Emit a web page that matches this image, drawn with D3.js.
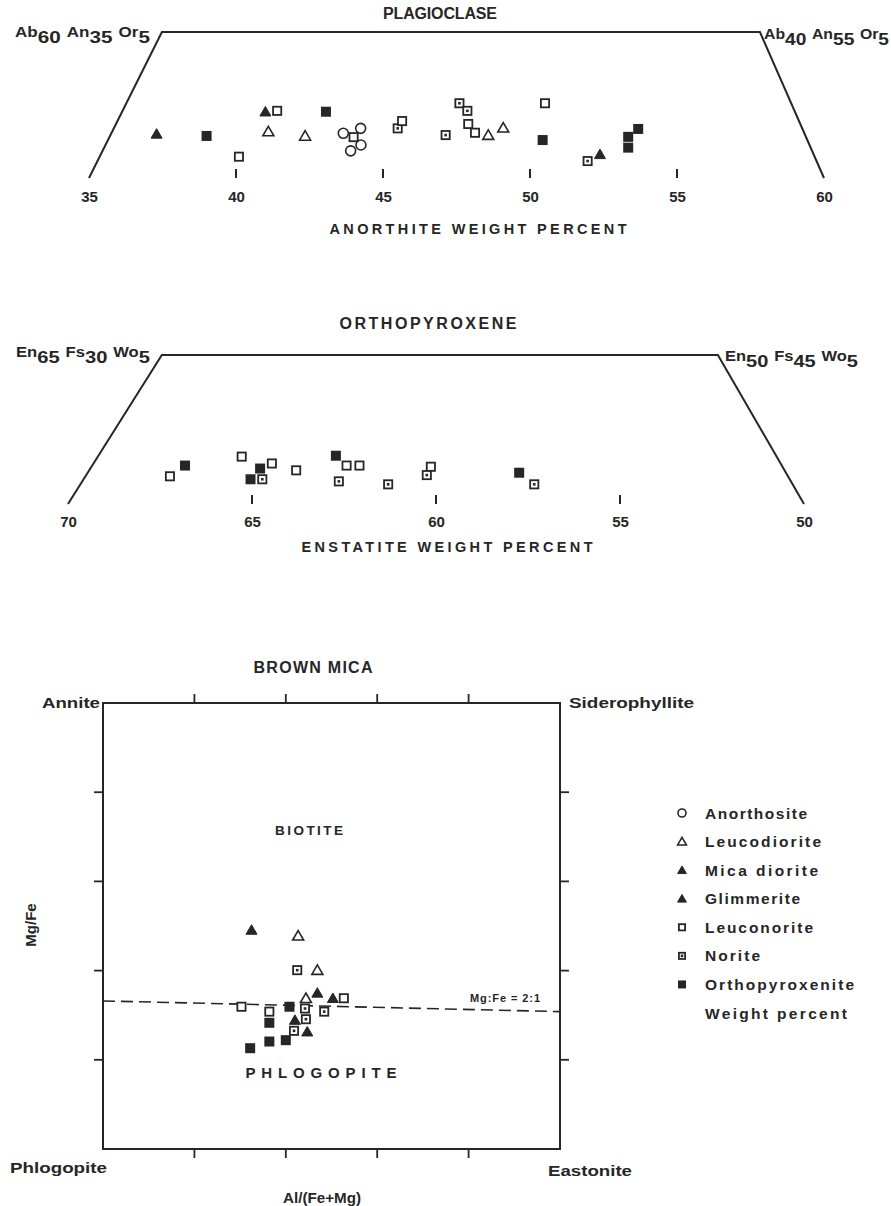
<!DOCTYPE html>
<html><head><meta charset="utf-8">
<script src="https://cdn.jsdelivr.net/npm/d3@7/dist/d3.min.js"></script>
<style>body{margin:0;background:#fff}svg{display:block}</style>
</head><body>
<svg id="c" width="891" height="1206"></svg>
<script>
// ---------------- DATA ----------------
const rockTypes = ["Anorthosite","Leucodiorite","Mica diorite","Glimmerite","Leuconorite","Norite","Orthopyroxenite"];

// Plagioclase: anorthite wt% (x) vs orthoclase wt% (vertical, 0 at base, 5 at top)
const plagTicks = [35,40,45,50,55,60];
const plagInnerTicks = [40,45,50,55];
const plagFrameAn = [35,37.48,57.82,60];
const plagFrameOr = [0,5,5,0];
const plagAn = [37.3,39.0,41.0,41.4,41.1,42.35,40.1,43.06,43.65,44.24,44.25,43.9,44.0,45.5,45.65,47.13,47.6,47.87,47.9,48.13,48.58,49.09,50.51,50.43,51.96,52.38,53.34,53.34,53.68];
const plagOr = [1.51,1.44,2.27,2.30,1.59,1.44,0.73,2.27,1.53,1.70,1.13,0.93,1.40,1.70,1.95,1.47,2.56,2.30,1.85,1.55,1.47,1.72,2.56,1.30,0.58,0.81,1.41,1.04,1.68];
const plagRock = ["Mica diorite","Orthopyroxenite","Mica diorite","Leuconorite","Leucodiorite","Leucodiorite","Leuconorite","Orthopyroxenite",
  "Anorthosite","Anorthosite","Anorthosite","Anorthosite","Leuconorite","Norite","Leuconorite","Norite","Norite","Norite","Leuconorite","Leuconorite",
  "Leucodiorite","Leucodiorite","Leuconorite","Orthopyroxenite","Norite","Mica diorite","Orthopyroxenite","Orthopyroxenite","Orthopyroxenite"];

// Orthopyroxene: enstatite wt% (x) vs wollastonite wt% (vertical)
const opxTicks = [70,65,60,55,50];
const opxInnerTicks = [65,60,55];
const opxFrameEn = [70,67.45,52.34,50];
const opxFrameWo = [0,5,5,0];
const opxEn = [67.23,66.82,65.28,64.78,64.46,65.04,64.72,63.80,62.72,62.43,62.08,62.64,61.30,60.14,60.25,57.74,57.33];
const opxWo = [0.93,1.29,1.59,1.19,1.36,0.83,0.83,1.13,1.62,1.29,1.29,0.76,0.66,1.25,0.97,1.05,0.66];
const opxRock = ["Leuconorite","Orthopyroxenite","Leuconorite","Orthopyroxenite","Leuconorite","Orthopyroxenite","Norite","Leuconorite",
  "Orthopyroxenite","Leuconorite","Leuconorite","Norite","Norite","Leuconorite","Norite","Orthopyroxenite","Norite"];

// Brown mica: Al/(Fe+Mg) (x, 0-1) vs Fe/(Fe+Mg) position (y, 0-1)
const micaTicks = [0.2,0.4,0.6,0.8];
const micaX = [0.325,0.427,0.425,0.469,0.469,0.503,0.527,0.444,0.303,0.364,0.408,0.442,0.484,0.364,0.420,0.444,0.418,0.447,0.322,0.364,0.400];
const micaY = [0.491,0.478,0.401,0.401,0.350,0.338,0.338,0.338,0.319,0.308,0.319,0.315,0.308,0.283,0.289,0.291,0.265,0.263,0.226,0.241,0.244];
const micaRock = ["Glimmerite","Leucodiorite","Norite","Leucodiorite","Mica diorite","Mica diorite","Leuconorite","Leucodiorite",
  "Leuconorite","Leuconorite","Orthopyroxenite","Norite","Norite","Orthopyroxenite","Mica diorite","Norite","Norite","Mica diorite",
  "Orthopyroxenite","Orthopyroxenite","Orthopyroxenite"];
const mgFeLineX = [0,1];
const mgFeLineY = [0.332,0.308];

// ---------------- DRAW ----------------
const ink = "#262626";
const FONT = "'Liberation Sans', Arial, Helvetica, sans-serif";
const NARROW = "'Liberation Sans Narrow', 'Liberation Sans', Arial, sans-serif";
const svg = d3.select("#c");
svg.append("rect").attr("width",891).attr("height",1206).attr("fill","#fff");

function txt(x,y,s,opt={}) {
  const t = svg.append("text").attr("x",x).attr("y",y).text(s)
    .attr("font-family",opt.family||FONT).attr("font-weight",opt.weight||"bold")
    .attr("font-size",opt.size||14).attr("fill",ink)
    .attr("text-anchor",opt.anchor||"start");
  if (opt.width) t.attr("textLength",opt.width).attr("lengthAdjust",opt.adjust||"spacing");
  return t;
}

function drawSym(g, type, cx, cy, s) {
  const h = s/2;
  if (type === "Anorthosite") {
    g.append("circle").attr("cx",cx).attr("cy",cy).attr("r",h).attr("fill","#fff").attr("stroke",ink).attr("stroke-width",1.6);
  } else if (type === "Leucodiorite" || type === "Mica diorite" || type === "Glimmerite") {
    const filled = type !== "Leucodiorite";
    const p = `M${cx},${cy-h*1.05}L${cx+h*1.1},${cy+h*0.85}L${cx-h*1.1},${cy+h*0.85}Z`;
    g.append("path").attr("d",p).attr("fill",filled?ink:"#fff").attr("stroke",ink)
      .attr("stroke-width",filled?1:1.6).attr("stroke-linejoin","miter");
  } else if (type === "Leuconorite" || type === "Norite") {
    g.append("rect").attr("x",cx-h+0.9).attr("y",cy-h+0.9).attr("width",s-1.8).attr("height",s-1.8)
      .attr("fill","#fff").attr("stroke",ink).attr("stroke-width",1.8);
    if (type === "Norite") g.append("rect").attr("x",cx-1.3).attr("y",cy-1.3).attr("width",2.6).attr("height",2.6).attr("fill",ink);
  } else {
    g.append("rect").attr("x",cx-h).attr("y",cy-h).attr("width",s).attr("height",s).attr("fill",ink);
  }
}

function trapPanel(cfg) {
  const x = d3.scaleLinear().domain(cfg.domain).range(cfg.xRange);
  const y = d3.scaleLinear().domain([0,5]).range(cfg.yRange);
  const g = svg.append("g");
  const line = d3.line().x(d=>x(d[0])).y(d=>y(d[1]));
  g.append("path").attr("d", line(cfg.frameX.map((v,i)=>[v,cfg.frameY[i]])))
    .attr("fill","none").attr("stroke",ink).attr("stroke-width",2).attr("stroke-linejoin","miter");
  g.selectAll("line.tk").data(cfg.inner).join("line")
    .attr("x1",d=>x(d)).attr("x2",d=>x(d)).attr("y1",y(0)).attr("y2",y(0)-9)
    .attr("stroke",ink).attr("stroke-width",2);
  const ax = g.append("g").attr("transform",`translate(0,${y(0)})`)
    .call(d3.axisBottom(x).tickValues(cfg.ticks).tickSize(0).tickPadding(cfg.pad).tickFormat(d3.format("d")));
  ax.select(".domain").remove();
  ax.selectAll("text").attr("font-family",FONT).attr("font-weight","bold").attr("font-size",15).attr("fill",ink);
  const pts = g.append("g");
  cfg.xs.forEach((v,i)=> drawSym(pts, cfg.rock[i], x(v), y(cfg.ys[i]), 10));
  return {x,y};
}

function formula(x, y, parts, width) {
  const t = svg.append("text").attr("x",x).attr("y",y).attr("font-family",FONT).attr("font-weight","bold").attr("fill",ink)
    .attr("textLength",width).attr("lengthAdjust","spacingAndGlyphs");
  parts.forEach((p,i)=>{
    t.append("tspan").attr("font-size",14).attr("dy", -6).attr("dx", i===0?0:5).text(p[0]);
    t.append("tspan").attr("font-size",17).attr("dy",6).text(p[1]);
  });
  return t;
}

// ---- Plagioclase ----
txt(440,19,"PLAGIOCLASE",{size:16,anchor:"middle",width:114});
trapPanel({domain:[35,60], xRange:[89,824], yRange:[178,32], frameX:plagFrameAn, frameY:plagFrameOr,
  inner:plagInnerTicks, ticks:plagTicks, xs:plagAn, ys:plagOr, rock:plagRock, pad:13});
txt(478,234,"ANORTHITE WEIGHT PERCENT",{size:14.5,anchor:"middle",width:297});
formula(15,43,[["Ab","60"],["An","35"],["Or","5"]],135);
formula(764,45,[["Ab","40"],["An","55"],["Or","5"]],125);

// ---- Orthopyroxene ----
txt(428,329,"ORTHOPYROXENE",{size:16,anchor:"middle",width:177});
trapPanel({domain:[70,50], xRange:[68,804], yRange:[504,355], frameX:opxFrameEn, frameY:opxFrameWo,
  inner:opxInnerTicks, ticks:opxTicks, xs:opxEn, ys:opxWo, rock:opxRock, pad:12});
txt(447,552,"ENSTATITE WEIGHT PERCENT",{size:14.5,anchor:"middle",width:291});
formula(16,363,[["En","65"],["Fs","30"],["Wo","5"]],134);
formula(725,367,[["En","50"],["Fs","45"],["Wo","5"]],133);

// ---- Brown mica ----
txt(313,673,"BROWN MICA",{size:16,anchor:"middle",width:119});
const mx = d3.scaleLinear().domain([0,1]).range([103,560]);
const my = d3.scaleLinear().domain([0,1]).range([1149,703]);
const mg = svg.append("g");
mg.append("rect").attr("x",mx(0)).attr("y",my(1)).attr("width",mx(1)-mx(0)).attr("height",my(0)-my(1))
  .attr("fill","none").attr("stroke",ink).attr("stroke-width",2);
const tl = 9;
mg.selectAll("line.t").data(micaTicks).join("line").attr("x1",d=>mx(d)).attr("x2",d=>mx(d)).attr("y1",my(1)).attr("y2",my(1)-tl).attr("stroke",ink).attr("stroke-width",1.8);
mg.selectAll("line.b").data(micaTicks).join("line").attr("x1",d=>mx(d)).attr("x2",d=>mx(d)).attr("y1",my(0)).attr("y2",my(0)+tl).attr("stroke",ink).attr("stroke-width",1.8);
mg.selectAll("line.l").data(micaTicks).join("line").attr("x1",mx(0)).attr("x2",mx(0)-tl).attr("y1",d=>my(d)).attr("y2",d=>my(d)).attr("stroke",ink).attr("stroke-width",1.8);
mg.selectAll("line.r").data(micaTicks).join("line").attr("x1",mx(1)).attr("x2",mx(1)+tl).attr("y1",d=>my(d)).attr("y2",d=>my(d)).attr("stroke",ink).attr("stroke-width",1.8);
mg.append("path").attr("d", d3.line().x(d=>mx(d[0])).y(d=>my(d[1]))(mgFeLineX.map((v,i)=>[v,mgFeLineY[i]])))
  .attr("fill","none").attr("stroke",ink).attr("stroke-width",1.6).attr("stroke-dasharray","12,6");
const mp = mg.append("g");
micaX.forEach((v,i)=> drawSym(mp, micaRock[i], mx(v), my(micaY[i]), 10));

txt(470,1002,"Mg:Fe = 2:1",{size:11,width:70});
txt(309,835,"BIOTITE",{size:13.5,anchor:"middle",width:68});
txt(321,1078,"PHLOGOPITE",{size:15,anchor:"middle",width:151});
txt(100,708,"Annite",{size:15,anchor:"end",family:NARROW,width:58,adjust:"spacingAndGlyphs"});
txt(569,708,"Siderophyllite",{size:15,family:NARROW,width:125,adjust:"spacingAndGlyphs"});
txt(10,1173,"Phlogopite",{size:15,family:NARROW,width:97,adjust:"spacingAndGlyphs"});
txt(548,1176,"Eastonite",{size:15,family:NARROW,width:84,adjust:"spacingAndGlyphs"});
txt(322,1203,"Al/(Fe+Mg)",{size:15,anchor:"middle",family:NARROW,width:78,adjust:"spacingAndGlyphs"});
svg.append("text").attr("transform","translate(36,925) rotate(-90)").attr("text-anchor","middle")
  .attr("font-family",NARROW).attr("font-weight","bold").attr("font-size",15).attr("fill",ink).text("Mg/Fe");

// ---- Legend ----
const legY = d3.scalePoint().domain(rockTypes.concat(["Weight percent"])).range([813,1013]);
const legW = {"Anorthosite":102,"Leucodiorite":116,"Mica diorite":113,"Glimmerite":95,"Leuconorite":108,"Norite":55,"Orthopyroxenite":149,"Weight percent":142};
const lg = svg.append("g");
rockTypes.forEach(r=> drawSym(lg, r, 682, legY(r), 8));
legY.domain().forEach(r=> txt(705, legY(r)+5.5, r, {size:15.5, width:legW[r]}));
</script>
</body></html>
